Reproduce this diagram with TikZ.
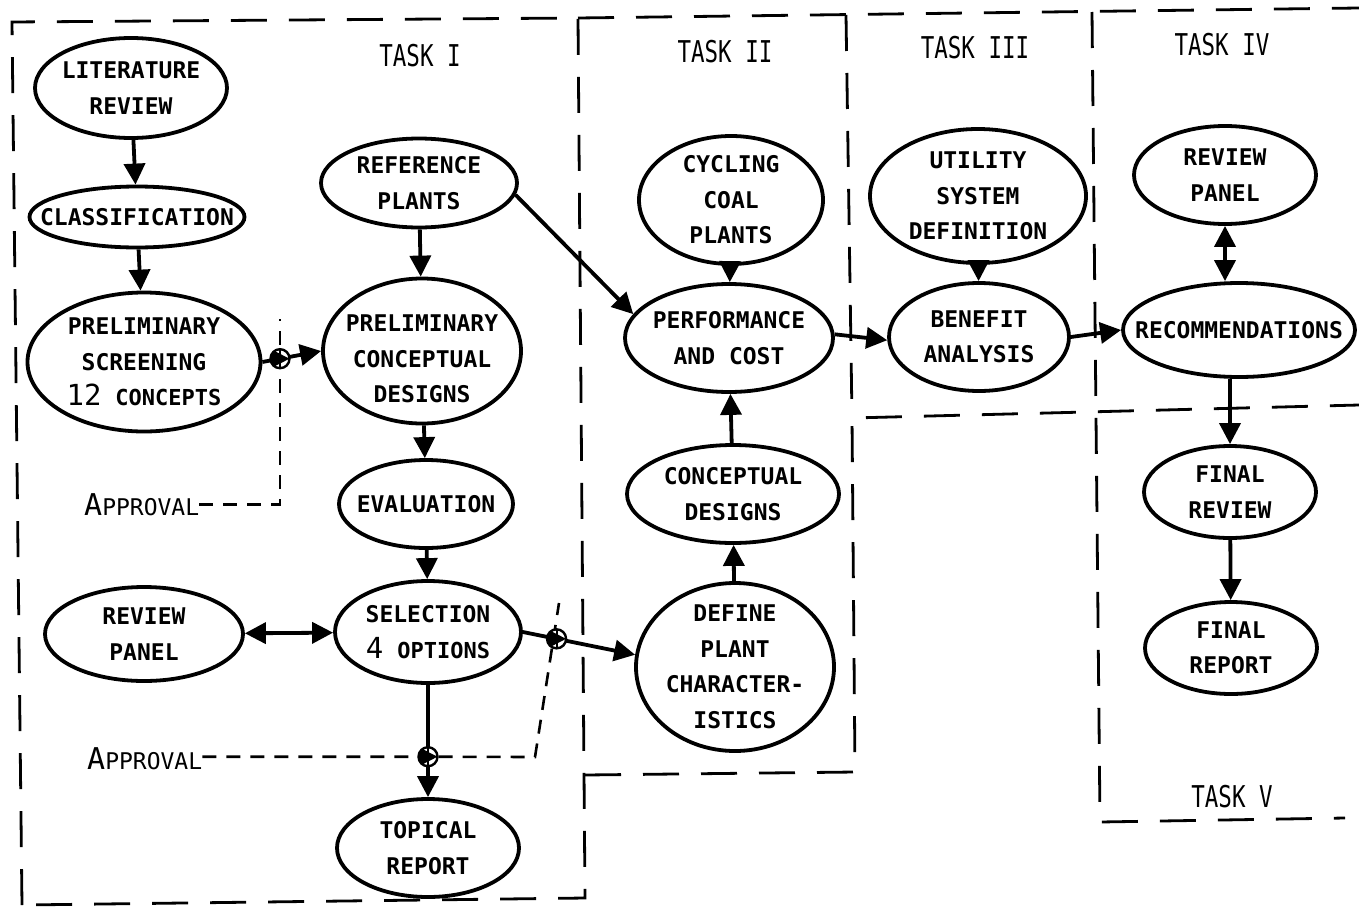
\documentclass[tikz,border=0pt]{standalone}
\usepackage{fontspec}
\setmainfont{DejaVu Sans Mono}
\newfontfamily\taskfont[FakeStretch=0.75]{DejaVu Sans Mono}
\usetikzlibrary{arrows.meta,shapes.geometric,calc}
\pgfdeclarelayer{bg}
\pgfsetlayers{bg,main}
\tikzset{
  ell/.style={ellipse, draw, line width=3.8pt, inner sep=0pt},
  txt/.style={align=center, inner sep=0pt, font=\bfseries\fontsize{23}{35.5}\selectfont},
  tasklbl/.style={inner sep=0pt, font=\taskfont\fontsize{30}{32}\selectfont},
  apprlbl/.style={inner sep=0pt, font=\fontsize{23}{26}\selectfont},
  arr/.style={line width=3.8pt, -{Triangle[length=21pt,width=21pt]}},
  darr/.style={line width=3.8pt, {Triangle[length=21pt,width=21pt]}-{Triangle[length=21pt,width=21pt]}},
  boxline/.style={line width=2.8pt, dash pattern=on 36pt off 22pt},
  apprline/.style={line width=2.6pt, dash pattern=on 14pt off 10pt},
  oplus/.style={circle, draw, line width=2.4pt, minimum size=19pt, inner sep=0pt, fill=white,
    path picture={\draw[line width=2pt] (path picture bounding box.north) -- (path picture bounding box.south)
      (path picture bounding box.west) -- (path picture bounding box.east);}}
}
\newcommand\bubble[6][0]{%
  \node[ell, minimum width=#4, minimum height=#5] (#2) at (#3) {};
  \node[txt] (#2-t) at ($(#2.center)+(0,#1)$) {#6};}
\begin{document}
\begin{tikzpicture}[x=1pt,y=-1pt]
\useasboundingbox (0,0) rectangle (1359,910);

% nodes
\bubble{lit}{131,88}{192}{100}{LITERATURE\\REVIEW}
\bubble{cls}{137,217}{215}{61}{CLASSIFICATION}
\bubble{scr}{144,362}{233}{139}{PRELIMINARY\\SCREENING\\{\mdseries\fontsize{29}{36}\selectfont 12} {\fontsize{22}{36}\selectfont CONCEPTS}}
\bubble{rp}{419,183}{196}{89}{REFERENCE\\PLANTS}
\bubble[8]{pd}{422,351}{198}{145}{PRELIMINARY\\CONCEPTUAL\\DESIGNS}
\bubble{ev}{426,504}{174}{88}{EVALUATION}
\bubble{sel}{428,632}{186}{102}{SELECTION\\{\mdseries\fontsize{29}{36}\selectfont 4} {\fontsize{22}{36}\selectfont OPTIONS}}
\bubble{rvl}{144,634}{198}{94}{REVIEW\\PANEL}
\bubble{tr}{428,848}{182}{98}{TOPICAL\\REPORT}
\bubble{ccp}{731,200}{184}{128}{CYCLING\\COAL\\PLANTS}
\bubble{pc}{729,338}{208}{108}{PERFORMANCE\\AND COST}
\bubble{cd}{733,494}{212}{98}{CONCEPTUAL\\DESIGNS}
\bubble{dp}{735,667}{198}{168}{DEFINE\\PLANT\\CHARACTER-\\ISTICS}
\bubble{usd}{978,196}{216}{134}{UTILITY\\SYSTEM\\DEFINITION}
\bubble{ba}{979,337}{180}{108}{BENEFIT\\ANALYSIS}
\bubble{rvr}{1225,175}{182}{98}{REVIEW\\PANEL}
\bubble{rec}{1239,330}{232}{94}{RECOMMENDATIONS}
\bubble{fr}{1230,492}{172}{92}{FINAL\\REVIEW}
\bubble{fp}{1231,648}{172}{92}{FINAL\\REPORT}

% task labels
\node[tasklbl] (t1) at (420,56) {TASK I};
\node[tasklbl] (t2) at (725,52) {TASK II};
\node[tasklbl] (t3) at (975,48) {TASK III};
\node[tasklbl] (t4) at (1222,45) {TASK IV};
\node[tasklbl] (t5) at (1232,797) {TASK V};

% approval labels
\node[apprlbl, anchor=base west] (ap1) at (84,515) {{\fontsize{30}{30}\selectfont A}PPROVAL};
\node[apprlbl, anchor=base west] (ap2) at (87,769) {{\fontsize{30}{30}\selectfont A}PPROVAL};

% connectors
\draw[arr] (lit) -- (cls);
\draw[arr] (cls) -- (scr);
\draw[arr] (scr.east) -- node[oplus, pos=0.3] (op1) {} (pd.west);
\draw[arr] (rp) -- (pd);
\draw[arr] (rp.-7) -- (pc.166);
\draw[arr] (pd) -- (ev);
\draw[arr] (ev) -- (sel);
\draw[darr] (rvl) -- (sel);
\draw[arr] (sel.south) -- node[oplus, pos=0.64] (op2) {} (tr.north);
\draw[arr] (sel.east) -- node[oplus, pos=0.3] (op3) {} (dp.173);
\draw[arr] (dp) -- (cd);
\draw[arr] (cd) -- (pc);
\draw[arr] (ccp) -- (pc);
\draw[arr] (pc.2) -- (ba.182);
\draw[arr] (usd) -- (ba);
\draw[arr] (ba.east) -- (rec.west);
\draw[darr] (rvr.south) -- (rvr.south |- rec.north);
\draw[arr] (rec.south -| fr.north) -- (fr.north);
\draw[arr] (fr) -- (fp);

% dashed lines
\begin{pgfonlayer}{bg}
\coordinate (c1) at ($(op1)+(0,-40)$);
\draw[apprline] (ap1.east) -| (c1);
\coordinate (c2) at (535,757);
\coordinate (c3) at (559,603);
\draw[apprline] (ap2.east |- op2) -- (op2) -- (c2) -- (c3);
\draw[boxline] (22,905) -- (12,22) -- (578,18) -- (585,898) -- cycle;
\draw[boxline] (578,18) -- (1359,8);
\draw[boxline] (846,15) -- (852,418);
\draw[boxline] (585,775) -- (855,772) -- (852,418) -- (1359,405);
\draw[boxline] (1092,12) -- (1100,822) -- (1345,818);
\end{pgfonlayer}
\end{tikzpicture}
\end{document}
